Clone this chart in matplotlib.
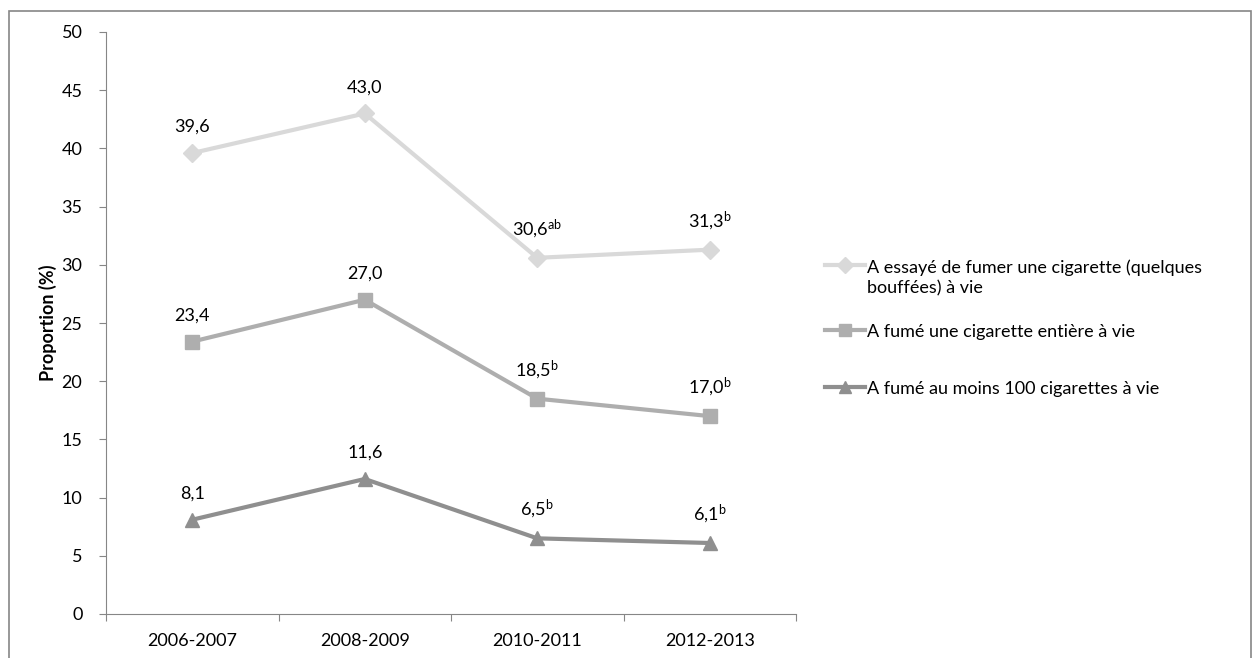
import matplotlib
matplotlib.use("Agg")
import matplotlib.pyplot as plt
from matplotlib.lines import Line2D
from matplotlib.patches import Rectangle

plt.rcParams['font.family'] = ['Lato', 'DejaVu Sans']
plt.rcParams['mathtext.default'] = 'regular'

periods = ["2006-2007", "2008-2009", "2010-2011", "2012-2013"]
essaye = [39.6, 43.0, 30.6, 31.3]
entiere = [23.4, 27.0, 18.5, 17.0]
cent = [8.1, 11.6, 6.5, 6.1]

lab_essaye = ["39,6", "43,0", "30,6$^{ab}$", "31,3$^{b}$"]
lab_entiere = ["23,4", "27,0", "18,5$^{b}$", "17,0$^{b}$"]
lab_cent = ["8,1", "11,6", "6,5$^{b}$", "6,1$^{b}$"]

legend_names = ["A essayé de fumer une cigarette (quelques\nbouffées) à vie",
                "A fumé une cigarette entière à vie",
                "A fumé au moins 100 cigarettes à vie"]

c1 = "#d9d9d9"
c2 = "#aeaeae"
c3 = "#8f8f8f"
axis_col = "#868686"

fig = plt.figure(figsize=(12.52, 6.58), dpi=100)
ax = fig.add_axes([106/1252, 44/658, 690/1252, 582/658])

x = list(range(len(periods)))
series = [(essaye, lab_essaye, c1, 'D', 9),
          (entiere, lab_entiere, c2, 's', 10),
          (cent, lab_cent, c3, '^', 10)]
for vals, labs, col, mk, ms in series:
    ax.plot(x, vals, color=col, lw=3, marker=mk, markersize=ms,
            markerfacecolor=col, markeredgecolor=col, zorder=3)
    for xi, v, t in zip(x, vals, labs):
        ax.annotate(t, (xi, v), xytext=(0, 13), textcoords='offset points',
                    ha='center', va='bottom', fontsize=13, color='black')

ax.set_xlim(-0.5, 3.5)
ax.set_ylim(0, 50)
ax.set_yticks(range(0, 51, 5))
ax.set_xticks([-0.5, 0.5, 1.5, 2.5, 3.5])
ax.set_xticklabels([])
ax.set_xticks(x, minor=True)
ax.set_xticklabels(periods, minor=True)
ax.tick_params(axis='x', which='minor', length=0, pad=14, labelsize=13)
ax.tick_params(axis='x', which='major', length=5, color=axis_col, direction='out')
ax.tick_params(axis='y', length=5, color=axis_col, pad=12, labelsize=13)
for s in ['top', 'right']:
    ax.spines[s].set_visible(False)
for s in ['left', 'bottom']:
    ax.spines[s].set_color(axis_col)
ax.set_ylabel("Proportion (%)", fontsize=13, fontweight='bold', labelpad=3)

# legend drawn by hand
leg_y = [265/658, 330/658, 387/658]
for (vals, labs, col, mk, ms), name, yy in zip(series, legend_names, leg_y):
    ty = 1 - yy
    fig.add_artist(Line2D([825/1252, 865/1252], [ty, ty], color=col, lw=3,
                          transform=fig.transFigure))
    fig.add_artist(Line2D([845/1252], [ty], color=col, marker=mk,
                          markersize=ms - 1, markerfacecolor=col,
                          markeredgecolor=col, transform=fig.transFigure))
    fig.text(867/1252, ty + 6/658, name, ha='left', va='top', fontsize=13,
             linespacing=1.35)

fig.add_artist(Rectangle((9/1252, -0.02), 1242/1252, 0.02 + 647/658,
                         transform=fig.transFigure, fill=False,
                         edgecolor=axis_col, lw=1.2))

fig.savefig("out.png", dpi=100)
